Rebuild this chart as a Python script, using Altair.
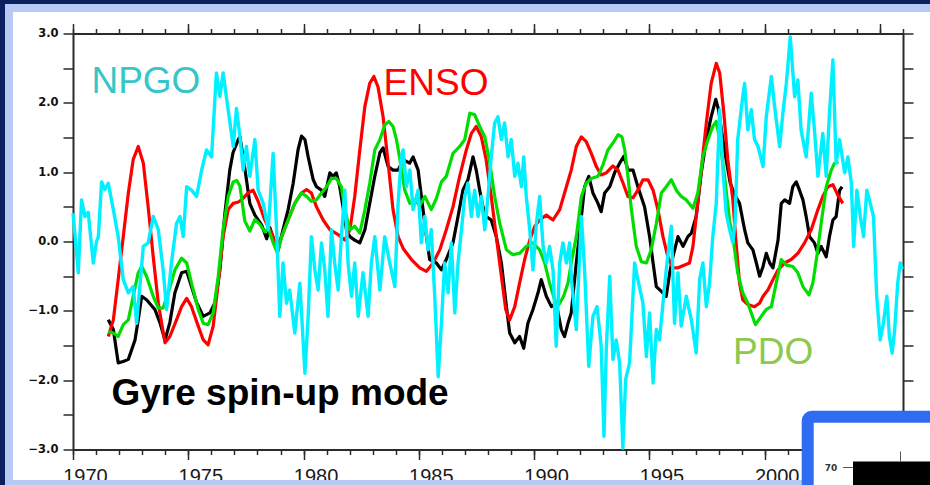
import altair as alt
import pandas as pd

# ---------------- data ----------------
GYRE_T = [1971.53, 1971.75, 1971.96, 1972.18, 1972.40, 1972.69, 1972.83, 1972.98, 1973.19, 1973.55,
          1973.77, 1973.99, 1974.20, 1974.42, 1974.71, 1974.93, 1975.14, 1975.36, 1975.65, 1975.94,
          1976.16, 1976.37, 1976.59, 1976.80, 1976.94, 1977.17, 1977.24, 1977.45, 1977.67, 1977.89,
          1978.18, 1978.40, 1978.54, 1978.76, 1978.90, 1979.11, 1979.33, 1979.55, 1979.76, 1979.91,
          1980.06, 1980.20, 1980.42, 1980.56, 1980.78, 1980.92, 1981.14, 1981.28, 1981.42, 1981.57,
          1981.71, 1981.86, 1982.01, 1982.22, 1982.44, 1982.66, 1982.87, 1983.09, 1983.31, 1983.45,
          1983.67, 1983.88, 1984.10, 1984.32, 1984.60, 1984.75, 1984.97, 1985.11, 1985.33, 1985.47,
          1985.76, 1985.98, 1986.19, 1986.48, 1986.70, 1986.91, 1987.13, 1987.35, 1987.49, 1987.64,
          1987.78, 1987.92, 1988.14, 1988.36, 1988.58, 1988.80, 1988.94, 1989.16, 1989.37, 1989.55,
          1989.73, 1989.95, 1990.17, 1990.31, 1990.53, 1990.75, 1990.96, 1991.18, 1991.32, 1991.47,
          1991.61, 1991.83, 1992.05, 1992.19, 1992.37, 1992.55, 1992.77, 1992.91, 1993.06, 1993.28,
          1993.49, 1993.71, 1993.90, 1994.07, 1994.29, 1994.50, 1994.79, 1995.01, 1995.16, 1995.30,
          1995.52, 1995.73, 1995.88, 1996.02, 1996.24, 1996.46, 1996.67, 1996.82, 1997.03, 1997.25,
          1997.47, 1997.68, 1997.88, 1998.00, 1998.15, 1998.33, 1998.50, 1998.69, 1998.91, 1999.13,
          1999.27, 1999.49, 1999.64, 1999.78, 1999.93, 2000.07, 2000.22, 2000.36, 2000.58, 2000.72,
          2000.87, 2001.08, 2001.22, 2001.37, 2001.51, 2001.66, 2001.80, 2001.95, 2002.16, 2002.31,
          2002.45, 2002.67, 2002.81, 2002.96, 2003.10, 2003.25, 2003.36]
GYRE_V = [-1.13, -1.27, -1.75, -1.73, -1.70, -1.42, -1.13, -0.79, -0.84, -0.98,
          -1.17, -1.42, -1.17, -0.74, -0.45, -0.43, -0.65, -0.88, -1.08, -1.03,
          -0.88, -0.41, 0.41, 1.03, 1.28, 1.47, 1.51, 1.06, 0.55, 0.38,
          0.24, 0.04, 0.20, -0.02, -0.12, 0.17, 0.46, 0.84, 1.32, 1.52,
          1.47, 1.22, 0.89, 0.79, 0.74, 0.65, 0.99, 0.94, 0.99, 0.79,
          0.50, 0.17, 0.07, 0.02, -0.02, 0.17, 0.55, 0.94, 1.28, 1.35,
          1.08, 1.03, 1.03, 1.18, 1.13, 1.22, 1.03, 0.65, 0.07, -0.26,
          -0.31, -0.41, -0.26, -0.02, 0.36, 0.74, 0.89, 1.22, 1.03, 0.74,
          0.50, 0.36, 0.31, 0.07, -0.31, -0.94, -1.32, -1.46, -1.37, -1.54,
          -1.18, -0.98, -0.74, -0.55, -0.79, -0.94, -0.89, -1.27, -1.37, -1.18,
          -1.03, -0.31, 0.36, 0.79, 0.94, 0.70, 0.55, 0.43, 0.70, 0.79,
          0.99, 1.13, 1.23, 1.03, 1.03, 0.79, 0.50, 0.07, -0.31, -0.65,
          -0.72, -0.79, -0.45, -0.22, 0.07, -0.07, 0.07, 0.12, 0.36, 0.99,
          1.47, 1.80, 2.05, 1.90, 1.55, 1.18, 0.85, 0.68, 0.55, 0.17,
          -0.02, -0.12, -0.31, -0.50, -0.36, -0.17, -0.31, -0.38, 0.02, 0.55,
          0.60, 0.55, 0.79, 0.86, 0.74, 0.60, 0.36, 0.07, -0.02, -0.17,
          -0.07, -0.22, 0.07, 0.31, 0.36, 0.74, 0.79]

ENSO_T = [1971.53, 1971.75, 1971.96, 1972.18, 1972.40, 1972.61, 1972.83, 1973.05, 1973.26, 1973.48,
          1973.70, 1973.99, 1974.20, 1974.49, 1974.71, 1974.93, 1975.14, 1975.43, 1975.65, 1975.86,
          1976.08, 1976.30, 1976.51, 1976.73, 1976.95, 1977.17, 1977.31, 1977.60, 1977.81, 1978.03,
          1978.32, 1978.61, 1978.83, 1979.05, 1979.33, 1979.62, 1979.91, 1980.13, 1980.34, 1980.56,
          1980.85, 1981.14, 1981.50, 1981.79, 1982.01, 1982.22, 1982.44, 1982.66, 1982.87, 1983.05,
          1983.23, 1983.45, 1983.67, 1983.88, 1984.10, 1984.32, 1984.68, 1985.04, 1985.33, 1985.62,
          1985.91, 1986.19, 1986.48, 1986.77, 1987.06, 1987.28, 1987.49, 1987.71, 1987.92, 1988.14,
          1988.36, 1988.58, 1988.77, 1988.94, 1989.16, 1989.37, 1989.59, 1989.81, 1990.03, 1990.24,
          1990.53, 1990.82, 1991.11, 1991.40, 1991.61, 1991.83, 1992.05, 1992.26, 1992.48, 1992.70,
          1992.91, 1993.13, 1993.42, 1993.64, 1993.86, 1994.07, 1994.29, 1994.50, 1994.72, 1994.94,
          1995.16, 1995.37, 1995.59, 1995.80, 1996.02, 1996.24, 1996.53, 1996.74, 1996.89, 1997.03,
          1997.25, 1997.47, 1997.68, 1997.90, 1998.05, 1998.23, 1998.40, 1998.62, 1998.76, 1998.91,
          1999.05, 1999.27, 1999.56, 1999.78, 1999.93, 2000.14, 2000.36, 2000.58, 2000.87, 2001.15,
          2001.44, 2001.73, 2002.02, 2002.31, 2002.52, 2002.74, 2002.96, 2003.17, 2003.39]
ENSO_V = [-1.37, -1.13, -0.55, 0.07, 0.70, 1.18, 1.37, 1.13, 0.50, -0.22,
          -0.89, -1.46, -1.37, -1.13, -0.94, -0.82, -0.94, -1.22, -1.42, -1.49,
          -1.22, -0.60, 0.07, 0.46, 0.55, 0.57, 0.60, 0.70, 0.74, 0.58,
          0.31, 0.12, -0.07, 0.07, 0.31, 0.55, 0.70, 0.75, 0.70, 0.50,
          0.31, 0.17, 0.10, 0.02, 0.17, 0.65, 1.32, 1.95, 2.28, 2.38,
          2.23, 1.80, 1.13, 0.46, 0.07, -0.10, -0.26, -0.38, -0.43, -0.31,
          -0.12, 0.17, 0.50, 0.94, 1.32, 1.56, 1.66, 1.51, 1.18, 0.65,
          0.07, -0.50, -0.98, -1.13, -0.94, -0.60, -0.26, 0.02, 0.22, 0.31,
          0.38, 0.31, 0.46, 0.79, 1.03, 1.37, 1.51, 1.44, 1.27, 1.08,
          0.96, 0.99, 1.09, 1.03, 0.84, 0.65, 0.63, 0.74, 0.89, 0.89,
          0.74, 0.46, 0.07, -0.22, -0.38, -0.38, -0.34, -0.31, -0.07, 0.36,
          1.03, 1.71, 2.28, 2.57, 2.43, 1.85, 1.18, 0.60, -0.02, -0.60,
          -0.84, -0.91, -0.94, -0.89, -0.79, -0.70, -0.55, -0.41, -0.31, -0.26,
          -0.17, -0.02, 0.17, 0.46, 0.65, 0.79, 0.82, 0.67, 0.55]

PDO_T = [1971.53, 1971.75, 1971.96, 1972.18, 1972.40, 1972.61, 1972.83, 1972.98, 1973.19, 1973.48,
         1973.70, 1973.91, 1974.13, 1974.42, 1974.71, 1974.93, 1975.14, 1975.43, 1975.65, 1975.86,
         1976.08, 1976.30, 1976.51, 1976.73, 1976.95, 1977.10, 1977.24, 1977.45, 1977.67, 1977.89,
         1978.10, 1978.32, 1978.47, 1978.64, 1978.87, 1979.05, 1979.33, 1979.62, 1979.91, 1980.13,
         1980.34, 1980.56, 1980.78, 1981.00, 1981.21, 1981.42, 1981.64, 1981.79, 1982.01, 1982.22,
         1982.44, 1982.66, 1982.87, 1983.09, 1983.31, 1983.52, 1983.70, 1983.88, 1984.03, 1984.17,
         1984.39, 1984.61, 1984.82, 1985.04, 1985.26, 1985.54, 1985.76, 1985.98, 1986.19, 1986.48,
         1986.77, 1986.99, 1987.21, 1987.42, 1987.64, 1987.86, 1988.08, 1988.29, 1988.51, 1988.80,
         1989.08, 1989.37, 1989.66, 1989.95, 1990.24, 1990.46, 1990.67, 1990.89, 1991.08, 1991.28,
         1991.47, 1991.61, 1991.83, 1992.05, 1992.26, 1992.48, 1992.77, 1992.99, 1993.20, 1993.42,
         1993.64, 1993.81, 1993.93, 1994.07, 1994.22, 1994.43, 1994.65, 1994.87, 1995.08, 1995.30,
         1995.52, 1995.73, 1995.95, 1996.17, 1996.38, 1996.60, 1996.89, 1997.10, 1997.32, 1997.54,
         1997.75, 1997.90, 1998.05, 1998.26, 1998.48, 1998.62, 1998.83, 1999.05, 1999.27, 1999.42,
         1999.60, 1999.85, 2000.07, 2000.29, 2000.50, 2000.72, 2000.94, 2001.22, 2001.44, 2001.66,
         2001.92, 2002.09, 2002.26, 2002.45, 2002.67, 2002.89, 2003.03, 2003.20]
PDO_V = [-1.30, -1.32, -1.37, -1.20, -1.13, -0.79, -0.45, -0.36, -0.50, -0.79,
         -0.96, -0.96, -0.74, -0.41, -0.24, -0.31, -0.60, -0.98, -1.18, -1.20,
         -1.03, -0.50, 0.17, 0.65, 0.86, 0.88, 0.80, 0.30, 0.15, 0.32,
         0.25, 0.14, 0.19, 0.02, -0.17, 0.07, 0.31, 0.55, 0.70, 0.65,
         0.58, 0.60, 0.70, 0.79, 0.91, 0.91, 0.79, 0.46, 0.17, 0.22,
         0.12, 0.46, 0.84, 1.32, 1.47, 1.68, 1.73, 1.66, 1.47, 1.20,
         0.74, 0.55, 0.60, 0.52, 0.65, 0.46, 0.62, 0.86, 0.94, 1.27,
         1.37, 1.47, 1.85, 1.83, 1.66, 1.51, 1.13, 0.65, 0.26, -0.12,
         -0.19, -0.17, -0.07, -0.02, -0.12, -0.31, -0.60, -0.84, -0.91, -0.79,
         -0.60, -0.31, 0.07, 0.65, 0.84, 0.91, 0.94, 1.11, 1.32, 1.42,
         1.54, 1.51, 1.32, 0.94, 0.46, -0.07, -0.29, -0.31, -0.12, 0.26,
         0.70, 0.79, 0.89, 0.74, 0.65, 0.60, 0.48, 0.70, 1.22, 1.47,
         1.66, 1.73, 1.47, 0.94, 0.30, 0.07, -0.45, -0.74, -0.89, -1.03,
         -1.20, -1.08, -0.98, -0.94, -0.60, -0.26, -0.34, -0.36, -0.45, -0.65,
         -0.77, -0.60, -0.22, 0.26, 0.79, 1.03, 1.13, 1.15]

NPGO_T = [1970.00, 1970.10, 1970.23, 1970.37, 1970.52, 1970.66, 1970.88, 1971.02, 1971.10, 1971.24,
          1971.38, 1971.53, 1971.75, 1971.96, 1972.18, 1972.40, 1972.61, 1972.76, 1972.90, 1973.05,
          1973.26, 1973.48, 1973.70, 1973.91, 1974.06, 1974.27, 1974.49, 1974.64, 1974.78, 1974.93,
          1975.14, 1975.36, 1975.58, 1975.79, 1976.01, 1976.22, 1976.37, 1976.51, 1976.73, 1976.95,
          1977.09, 1977.24, 1977.38, 1977.52, 1977.67, 1977.89, 1978.03, 1978.25, 1978.47, 1978.68,
          1978.83, 1978.97, 1979.11, 1979.26, 1979.40, 1979.62, 1979.84, 1980.06, 1980.20, 1980.34,
          1980.49, 1980.63, 1980.78, 1980.92, 1981.06, 1981.21, 1981.35, 1981.50, 1981.64, 1981.79,
          1981.93, 1982.08, 1982.22, 1982.37, 1982.58, 1982.80, 1982.94, 1983.09, 1983.31, 1983.52,
          1983.74, 1983.96, 1984.10, 1984.24, 1984.32, 1984.46, 1984.61, 1984.75, 1984.97, 1985.11,
          1985.26, 1985.40, 1985.54, 1985.69, 1985.84, 1985.98, 1986.12, 1986.27, 1986.41, 1986.56,
          1986.70, 1986.85, 1986.99, 1987.13, 1987.28, 1987.42, 1987.57, 1987.71, 1987.86, 1988.00,
          1988.14, 1988.29, 1988.43, 1988.58, 1988.72, 1988.87, 1989.01, 1989.16, 1989.30, 1989.45,
          1989.55, 1989.66, 1989.81, 1989.95, 1990.10, 1990.24, 1990.39, 1990.53, 1990.67, 1990.82,
          1990.96, 1991.11, 1991.25, 1991.40, 1991.54, 1991.62, 1991.83, 1992.05, 1992.19, 1992.37,
          1992.55, 1992.73, 1992.91, 1993.03, 1993.13, 1993.28, 1993.42, 1993.56, 1993.71, 1993.85,
          1993.97, 1994.14, 1994.36, 1994.50, 1994.72, 1994.87, 1995.01, 1995.16, 1995.30, 1995.44,
          1995.59, 1995.73, 1995.95, 1996.09, 1996.24, 1996.38, 1996.60, 1996.82, 1997.03, 1997.18,
          1997.32, 1997.47, 1997.61, 1997.75, 1997.90, 1998.05, 1998.19, 1998.33, 1998.48, 1998.62,
          1998.72, 1998.83, 1999.05, 1999.13, 1999.27, 1999.42, 1999.56, 1999.71, 1999.93, 2000.07,
          2000.29, 2000.43, 2000.65, 2000.79, 2000.94, 2001.11, 2001.30, 2001.44, 2001.58, 2001.80,
          2002.02, 2002.16, 2002.31, 2002.52, 2002.67, 2002.81, 2002.96, 2003.10, 2003.25, 2003.47,
          2003.61, 2003.76, 2003.86, 2004.00, 2004.15, 2004.29, 2004.43, 2004.58, 2004.72, 2004.86,
          2005.01, 2005.15, 2005.30, 2005.41, 2005.53, 2005.64, 2005.77, 2005.88, 2005.97]
NPGO_V = [0.41, 0.05, -0.45, 0.60, 0.36, 0.42, -0.31, 0.00, 0.07, 0.86,
          0.75, 0.84, 0.46, 0.07, -0.55, -0.74, -0.65, -1.18, -0.65, -0.07,
          -0.02, 0.36, 0.17, -0.41, -0.98, -0.31, 0.26, 0.36, 0.07, 0.79,
          0.74, 0.65, 1.03, 1.32, 1.22, 2.43, 2.09, 2.43, 1.90, 1.37,
          1.92, 1.52, 1.03, 1.37, 0.94, 1.47, 0.74, 0.55, 0.17, 1.27,
          0.17, -1.08, -0.31, -0.89, -0.70, -1.32, -0.60, -1.90, -1.08, 0.07,
          -0.41, -0.70, -0.02, -0.41, -1.08, 0.17, -0.31, -0.70, 0.07, 0.74,
          -0.31, -0.79, -0.31, -1.08, -0.45, -1.08, -0.31, 0.07, -0.70, 0.07,
          -0.31, -0.65, 0.55, 1.22, 1.32, 0.79, 1.03, 0.46, 0.74, -0.02,
          0.36, -0.12, 0.17, -0.79, -1.95, -1.18, -0.31, -0.74, -0.02, -1.03,
          -0.31, 0.17, 0.65, 0.84, 0.36, 0.74, 0.36, 0.65, 0.17, 0.65,
          1.22, 1.71, 1.80, 1.47, 1.71, 1.22, 1.47, 0.94, 1.13, 0.79,
          1.22, 0.65, 0.17, -0.41, 0.26, 0.65, -0.07, -0.31, -0.07, -0.41,
          -1.51, -0.31, -0.02, -0.31, -0.02, -0.55, -1.27, 0.36, -0.41, -1.80,
          -1.08, -0.94, -1.51, -2.81, -1.56, -0.50, -1.70, -1.42, -1.75, -2.98,
          -1.99, -1.75, -0.31, -0.55, -0.89, -1.66, -1.03, -2.04, -1.27, -1.42,
          -0.89, -0.41, 0.22, -1.18, -0.45, -1.22, -0.79, -1.13, -1.61, -0.55,
          -0.31, -0.94, -0.60, 0.07, 0.55, 1.90, 1.03, 0.41, 0.17, -0.02,
          0.30, 1.47, 2.09, 2.28, 1.61, 1.90, 1.47, 1.37, 1.08, 1.80,
          2.38, 1.95, 1.37, 1.85, 2.28, 2.95, 2.09, 2.33, 1.61, 1.22,
          2.14, 1.61, 0.94, 1.56, 0.94, 1.85, 2.62, 1.13, 1.47, 0.99,
          1.22, 0.84, -0.07, 0.74, 0.36, 0.07, 0.74, 0.55, 0.36, -0.79,
          -1.42, -1.18, -0.79, -1.37, -1.61, -1.27, -0.60, -0.31, -0.40]

LABELS = ["NPGO", "ENSO", "PDO", "Gyre spin-up mode"]
X_MAJOR = [1970, 1975, 1980, 1985, 1990, 1995, 2000, 2005]
X_MINOR = list(range(1970, 2007))
Y_TICKS = [-3.0, -2.5, -2.0, -1.5, -1.0, -0.5, 0.0, 0.5, 1.0, 1.5, 2.0, 2.5, 3.0]
INSET_LABEL = "70"

# ---------------- layout ----------------
W, H = 830, 416
OX, OY = 73, 33.5          # plot origin on the page
def px(x): return x - OX
def py(y): return y - OY

xs = alt.Scale(domain=[1970, 2006], nice=False, zero=False)
ys = alt.Scale(domain=[-3, 3], nice=False, zero=False)

AX = dict(title=None, grid=False, zindex=0, domainColor="#2a2a2a", domainWidth=2,
          tickColor="#2a2a2a", tickWidth=1.5)

ax_bottom_major = alt.Axis(orient="bottom", values=X_MAJOR, tickSize=10, format="d",
                           labelFont="Liberation Sans", labelFontSize=20, labelColor="#1a1a1a",
                           labelPadding=7, labelOffset=12, labelFlush=False, labelOverlap=False,
                           labelBound=False, **AX)
ax_bottom_minor = alt.Axis(orient="bottom", values=X_MINOR, tickSize=5, labels=False, domain=False, **AX)
ax_top_major = alt.Axis(orient="top", values=X_MAJOR, tickSize=10, labels=False, **AX)
ax_top_minor = alt.Axis(orient="top", values=X_MINOR, tickSize=5, labels=False, domain=False, **AX)
ax_left = alt.Axis(orient="left", values=Y_TICKS, tickSize=10,
                   labelExpr="datum.value % 1 === 0 ? format(datum.value, '.1f') : ''",
                   labelFont="DejaVu Sans", labelFontWeight="bold", labelFontSize=11.5,
                   labelColor="#111", labelPadding=5, labelOverlap=False, labelFlush=False, **AX)
ax_right = alt.Axis(orient="right", values=Y_TICKS, tickSize=10, labels=False, **AX)


def series(t, v, color, xaxis, yaxis, width=3.2):
    df = pd.DataFrame({"t": t, "v": v})
    return alt.Chart(df).mark_line(color=color, strokeWidth=width, strokeJoin="round", clip=False).encode(
        x=alt.X("t:Q", scale=xs, axis=xaxis),
        y=alt.Y("v:Q", scale=ys, axis=yaxis),
    )

black = series(GYRE_T, GYRE_V, "#000000", ax_top_minor, ax_right)
red = series(ENSO_T, ENSO_V, "#ff0000", ax_top_major, None)
green = series(PDO_T, PDO_V, "#00dd00", ax_bottom_minor, None)
cyan = series(NPGO_T, NPGO_V, "#00f0ff", ax_bottom_major, ax_left, 3.4)


def label(text, year, val, color, size, weight="normal"):
    return alt.Chart(pd.DataFrame({"label": [text]})).mark_text(
        align="left", baseline="alphabetic", font="Liberation Sans", fontSize=size,
        fontWeight=weight, color=color, clip=False
    ).encode(
        x=alt.XDatum(year, type="quantitative", scale=xs, axis=None),
        y=alt.YDatum(val, type="quantitative", scale=ys, axis=None),
        text="label:N",
    )

t_npgo = label(LABELS[0], 1970.80, 2.14, "#36c6c8", 37)
t_enso = label(LABELS[1], 1983.47, 2.11, "#ff0000", 37)
t_pdo = label(LABELS[2], 1998.63, -1.77, "#8cc94e", 37)
t_gyre = label(LABELS[3], 1971.67, -2.36, "#000000", 37, "bold")

ONE = pd.DataFrame({"k": [0]})
def box(x0, x1, y0, y1, **kw):
    return alt.Chart(ONE).mark_rect(clip=False, **kw).encode(
        x=alt.value(px(x0)), x2=alt.value(px(x1)), y=alt.value(py(y0)), y2=alt.value(py(y1)))

NAVY = "#0c1f5e"
PALE = "#b6caf5"
frame_parts = [
    box(0, 935, 4, 12, color=PALE),
    box(5, 13, 4, 490, color=PALE),
    box(5, 935, 480, 490, color=PALE),
    box(0, 935, -5, 4, color=NAVY),
    box(-5, 5, -5, 490, color=NAVY),
]

inset = [
    box(807.7, 1000, 416.7, 600, fill="white", stroke="#2e6df2", strokeWidth=12, cornerRadius=4),
    box(853, 1000, 461.5, 600, color="#000000"),
    alt.Chart(ONE).mark_rule(color="#555555", strokeWidth=1, clip=False).encode(
        x=alt.value(px(843)), x2=alt.value(px(853)), y=alt.value(py(467.5))),
    alt.Chart(ONE).mark_rule(color="#555555", strokeWidth=1, clip=False).encode(
        x=alt.value(px(900.5)), y=alt.value(py(451.5)), y2=alt.value(py(461.5))),
    alt.Chart(pd.DataFrame({"label": [INSET_LABEL]})).mark_text(
        font="DejaVu Sans", fontSize=9, fontWeight="bold", color="#333333", align="center",
        baseline="middle", clip=False
    ).encode(x=alt.value(px(831)), y=alt.value(py(467.5)), text="label:N"),
]

chart = alt.layer(
    black, red, green, cyan, t_npgo, t_enso, t_pdo, t_gyre, *frame_parts, *inset
).resolve_axis(x="independent", y="independent").properties(
    width=W, height=H, background="white",
    padding={"left": OX, "top": OY, "right": 930 - OX - W, "bottom": 485 - OY - H},
    autosize=alt.AutoSizeParams(type="none"),
).configure_view(stroke=None)

chart.save("out.html", embed_options={"renderer": "svg", "actions": False})
